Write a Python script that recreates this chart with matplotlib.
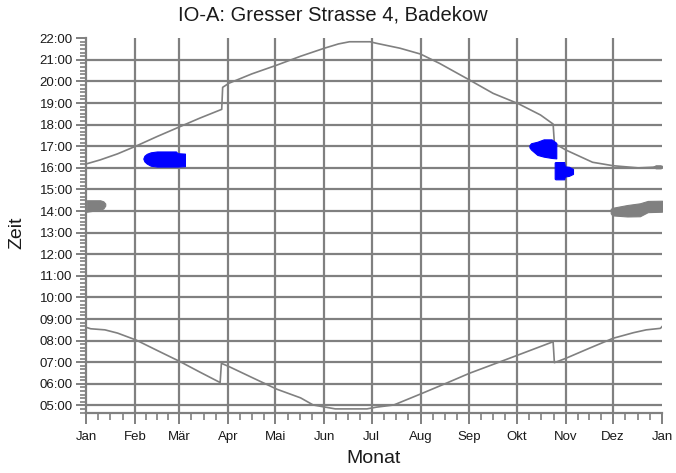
import numpy as np
import matplotlib
matplotlib.use("Agg")
import matplotlib.pyplot as plt

plt.rcParams['font.family'] = ['Liberation Sans', 'DejaVu Sans']

# x axis = day of year, y axis = hour of day
month_labels = ["Jan", "Feb", "Mär", "Apr", "Mai", "Jun", "Jul",
                "Aug", "Sep", "Okt", "Nov", "Dez", "Jan"]
month_start = [0, 31, 59, 90, 120, 151, 181, 212, 243, 273, 304, 334, 365]
hours = list(range(5, 23))

# upper curve (sunset, local time incl. DST jumps)
set_days = [0, 9, 20, 31.7, 45, 59.6, 72, 86, 86.6, 90.6, 105, 121, 136, 151,
            160, 167, 180, 184, 199, 212, 224, 243, 258, 274, 288, 296,
            296.8, 304, 321, 334, 350, 365]
set_hour = [16.18, 16.37, 16.65, 17.01, 17.45, 17.91, 18.3, 18.71, 19.73,
            19.92, 20.35, 20.76, 21.17, 21.54, 21.74, 21.84, 21.84, 21.77,
            21.54, 21.27, 20.84, 20.07, 19.45, 18.97, 18.45, 18.03, 17.14,
            16.83, 16.26, 16.1, 16.0, 16.05]

# lower curve (sunrise)
rise_days = [0, 3, 12, 20, 31.7, 45, 59.6, 72, 85, 85.8, 90.6, 105, 121, 136,
             144, 151, 158, 178, 184, 195, 212, 228, 243, 258, 274, 296,
             296.8, 304, 319, 334, 347, 355, 364, 365]
rise_hour = [8.62, 8.55, 8.5, 8.35, 8.03, 7.55, 7.03, 6.55, 6.06, 6.95, 6.8,
             6.3, 5.75, 5.35, 5.02, 4.93, 4.84, 4.84, 4.92, 5.02, 5.53, 6.02,
             6.49, 6.9, 7.34, 7.95, 6.98, 7.18, 7.65, 8.11, 8.37, 8.5, 8.57,
             8.65]

# shadow periods (blue) and other periods (gray)
feb_days = [36.3, 37, 38.5, 41, 45, 57, 58, 62.7]
feb_lo = [16.43, 16.3, 16.2, 16.1, 16.06, 16.06, 16.06, 16.08]
feb_hi = [16.43, 16.56, 16.65, 16.72, 16.76, 16.76, 16.68, 16.66]

oct1_days = [281, 282, 286, 290, 295, 298]
oct1_lo = [16.95, 16.85, 16.6, 16.52, 16.46, 16.44]
oct1_hi = [17.05, 17.14, 17.21, 17.32, 17.32, 17.16]

oct2_days = [297, 297.5, 303, 303.5, 306, 308.6]
oct2_lo = [15.5, 15.47, 15.47, 15.6, 15.63, 15.72]
oct2_hi = [16.25, 16.27, 16.27, 16.07, 16.05, 15.95]

jan_days = [0.5, 9, 11, 12.2]
jan_lo = [13.97, 14.06, 14.12, 14.25]
jan_hi = [14.5, 14.5, 14.45, 14.35]

dec_days = [332.5, 333.5, 343, 351, 356, 365]
dec_lo = [13.9, 13.8, 13.75, 13.76, 13.95, 13.97]
dec_hi = [14.1, 14.15, 14.28, 14.36, 14.47, 14.48]

tail_days = [359.5, 361, 364, 365.5]
tail_lo = [16.04, 15.98, 15.98, 16.02]
tail_hi = [16.06, 16.12, 16.12, 16.08]

gray = '#808080'
blue = '#0000ff'

fig = plt.figure(figsize=(6.76, 4.73), dpi=100)
ax = fig.add_axes([86/676, 1-413/473, (662-86)/676, (413-38.3)/473])

ax.plot(set_days, set_hour, color=gray, lw=1.2, zorder=0.3)
ax.plot(rise_days, rise_hour, color=gray, lw=1.2, zorder=0.3)

for d, lo, hi, c in [(feb_days, feb_lo, feb_hi, blue),
                     (oct1_days, oct1_lo, oct1_hi, blue),
                     (oct2_days, oct2_lo, oct2_hi, blue),
                     (jan_days, jan_lo, jan_hi, gray),
                     (dec_days, dec_lo, dec_hi, gray),
                     (tail_days, tail_lo, tail_hi, gray)]:
    ax.fill_between(d, lo, hi, color=c, lw=0.8, edgecolor=c, zorder=2)

ax.set_xlim(0, 365)
ax.set_ylim(4.65, 22)

ax.set_xticks(month_start)
ax.set_xticklabels(month_labels)
minor_x = []
for i in range(12):
    L = month_start[i+1] - month_start[i]
    minor_x += [month_start[i] + k*L/4 for k in (1, 2, 3)]
ax.set_xticks(minor_x, minor=True)

ax.set_yticks(hours)
ax.set_yticklabels(["%02d:00" % h for h in hours])
ax.set_yticks(np.arange(28, 133) / 6, minor=True)

ax.set_axisbelow(True)
ax.grid(True, which='major', color=gray, lw=1.6)
for line, pos in zip(ax.yaxis.get_gridlines(), hours):
    if pos == 22:
        line.set_visible(False)
for line, pos in zip(ax.xaxis.get_gridlines(), month_start):
    if pos in (0, 365):
        line.set_visible(False)

for s in ['top', 'right']:
    ax.spines[s].set_visible(False)
for s in ['left', 'bottom']:
    ax.spines[s].set_color(gray)
    ax.spines[s].set_linewidth(1.6)

ax.tick_params(which='major', color=gray, width=1.4, labelsize=9.5,
               labelcolor='#1a1a1a')
ax.tick_params(axis='y', which='major', length=7, pad=2.5)
ax.tick_params(axis='y', which='minor', length=4, width=1.2, color=gray)
ax.tick_params(axis='x', which='major', length=8, pad=5)
ax.tick_params(axis='x', which='minor', length=5, width=1.2, color=gray)

fig.text(333/676, 1-15/473, "IO-A: Gresser Strasse 4, Badekow",
         ha='center', va='center', fontsize=14.5, color='#1a1a1a')
fig.text(17/676, 1-233/473, "Zeit", rotation=90, ha='center', va='center',
         fontsize=14, color='#1a1a1a')
fig.text(374/676, 1-458/473, "Monat", ha='center', va='center',
         fontsize=14, color='#1a1a1a')

fig.savefig("out.png", dpi=100)
